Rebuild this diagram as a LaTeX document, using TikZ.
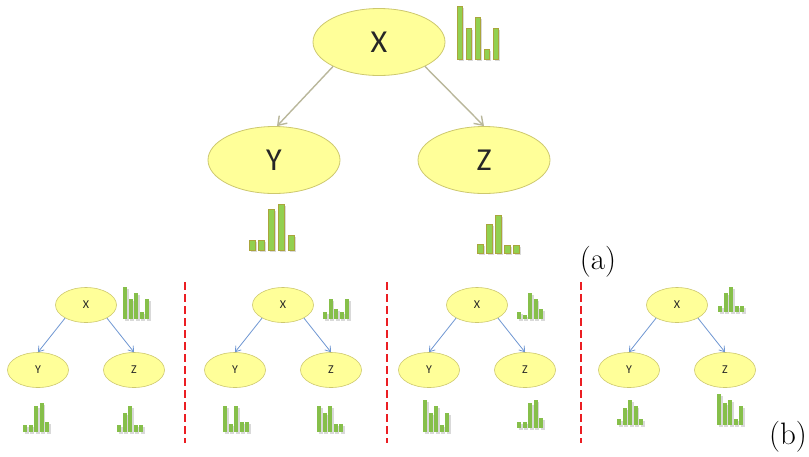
\documentclass[tikz,border=0pt]{standalone}
\usepackage{fontspec}
\newfontfamily\nodefont{Carlito}
\usetikzlibrary{arrows.meta,shapes.geometric}

\definecolor{nodefill}{RGB}{255,255,153}
\definecolor{nodeline}{RGB}{205,200,110}
\definecolor{barfill}{RGB}{146,208,80}
\definecolor{barline}{RGB}{170,165,60}
\definecolor{edgegray}{RGB}{185,183,155}
\definecolor{edgeblue}{RGB}{110,150,210}
\definecolor{sepred}{RGB}{235,30,35}

\tikzset{every picture/.style={line width=0.75pt}}
\tikzset{
  bignode/.style={ellipse, draw=nodeline, fill=nodefill, line width=0.8pt,
    minimum width=132pt, minimum height=67pt, inner sep=0pt,
    font=\nodefont\fontsize{32}{38}\selectfont, text=black!85},
  smallnode/.style={ellipse, draw=nodeline, fill=nodefill, line width=0.6pt,
    minimum width=61pt, minimum height=35pt, inner sep=0pt,
    font=\nodefont\fontsize{12}{14}\selectfont, text=black!85},
  bigedge/.style={draw=edgegray, line width=1.4pt, -{Straight Barb[length=8pt,width=11pt]}},
  smalledge/.style={draw=edgeblue, line width=0.8pt, -{Straight Barb[length=5pt,width=7pt]}},
  sepline/.style={draw=sepred, line width=1.8pt, dash pattern=on 8pt off 4pt},
  bigbar/.style={fill=barfill, draw=barline, line width=0.8pt},
  smallbar/.style={fill=barfill!92!black, draw=none},
  barshadow/.style={fill=black, opacity=0.15},
  tag/.style={inner sep=0pt, font=\fontsize{31}{36}\selectfont},
}

% bars: left x, base y, bar width, pitch, style, heights
\newcommand{\histbars}[6]{%
  \foreach \h [count=\k from 0] in {#6} {
    \fill[barshadow] ({#1+\k*#4+1.5},{#2+1.5}) rectangle ++(#3,-\h);
    \draw[#5] ({#1+\k*#4},#2) rectangle ++(#3,-\h);
  }}

\begin{document}
\begin{tikzpicture}[x=1pt,y=1pt,yscale=-1]
  \useasboundingbox (0,0) rectangle (809,456);

  % (a) large tree
  \node[bignode] (x) at (379,42) {X};
  \node[bignode] (y) at (274,160) {Y};
  \node[bignode] (z) at (484,160) {Z};
  \draw[bigedge] (x.208) -- (y.85);
  \draw[bigedge] (x.332) -- (z.north);

  \histbars{457}{59}{5.5}{9}{bigbar}{53,31,42,10,31}
  \histbars{249}{250}{6}{9.8}{bigbar}{10,10,41,46,15}
  \histbars{477}{253}{6}{9}{bigbar}{9,29,38,8,8}

  \node[tag] (lbla) at (598,262) {(a)};

  % (b) four small trees
  \foreach \i/\cx in {1/86,2/283,3/477,4/677} {
    \node[smallnode] (x\i) at (\cx,305) {X};
    \node[smallnode] (y\i) at (\cx-48,370) {Y};
    \node[smallnode] (z\i) at (\cx+48,370) {Z};
    \draw[smalledge] (x\i.212) -- (y\i.north);
    \draw[smalledge] (x\i.328) -- (z\i.north);
  }

  \histbars{123}{319}{4}{5.6}{smallbar}{32,20,26,7,20}
  \histbars{23}{432}{4}{5.6}{smallbar}{7,7,26,29,10}
  \histbars{117}{432}{4}{5.6}{smallbar}{7,19,26,7,7}

  \histbars{323}{319}{4}{5.6}{smallbar}{7,20,10,7,20}
  \histbars{223}{432}{4}{5.6}{smallbar}{26,8,26,10,10}
  \histbars{317}{432}{4}{5.6}{smallbar}{26,19,26,8,8}

  \histbars{517}{319}{4}{5.6}{smallbar}{7,4,26,20,10}
  \histbars{423}{432}{4}{5.6}{smallbar}{32,19,26,7,19}
  \histbars{517}{428}{4}{5.6}{smallbar}{6,6,25,28,10}

  \histbars{718}{312}{4}{5.6}{smallbar}{6,19,25,6,6}
  \histbars{617}{425}{4}{5.6}{smallbar}{6,17,25,19,6}
  \histbars{717}{425}{4}{5.6}{smallbar}{31,22,25,6,19}

  % separators
  \foreach \sx in {185,387,581}
    \draw[sepline] (\sx,282) -- (\sx,443);

  \node[tag] (lblb) at (788,437) {(b)};
\end{tikzpicture}
\end{document}
